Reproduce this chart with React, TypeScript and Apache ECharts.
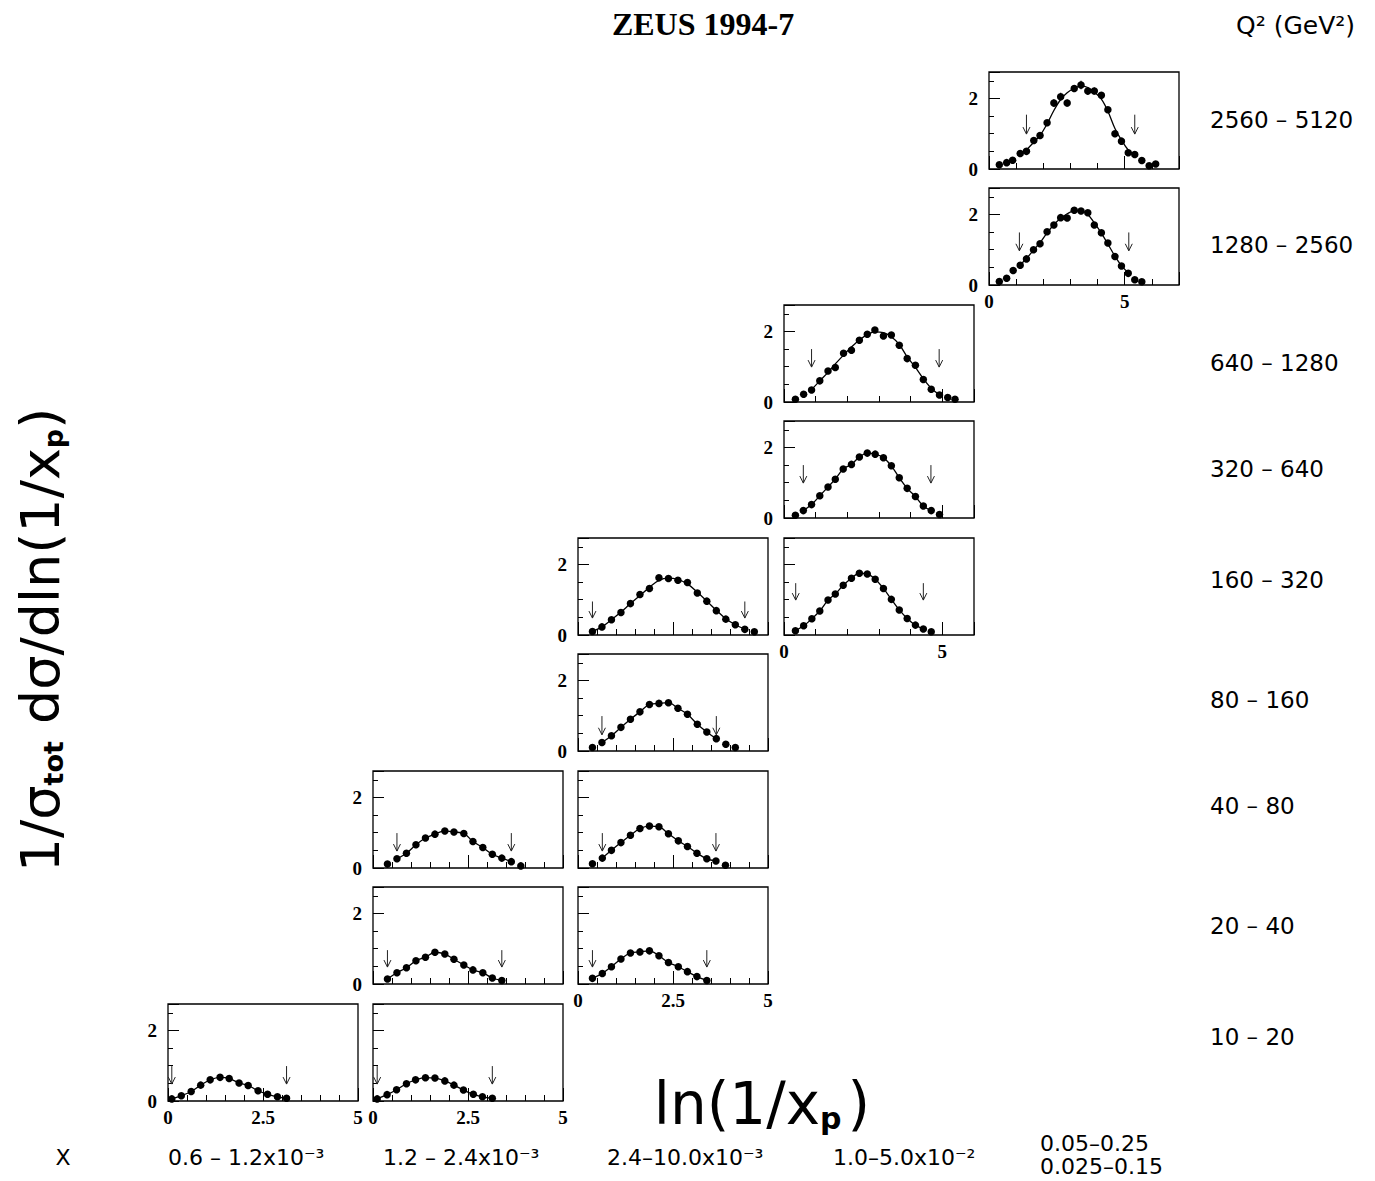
import React, { useEffect, useRef } from 'react';
import * as echarts from 'echarts';

// ---------- texts ----------
const titleText = 'ZEUS 1994-7';
const q2Header = 'Q² (GeV²)';
const q2Labels = ['2560 – 5120', '1280 – 2560', '640 – 1280', '320 – 640', '160 – 320', '80 – 160', '40 – 80', '20 – 40', '10 – 20'];
const xBinLabels = ['0.6 – 1.2x10⁻³', '1.2 – 2.4x10⁻³', '2.4–10.0x10⁻³', '1.0–5.0x10⁻²'];
const xBinLast = ['0.05–0.25', '0.025–0.15'];

// ---------- axis scales per column ----------
const colXMax = [5, 5, 5, 6, 7];
const colXMajor = [2.5, 2.5, 2.5, 5, 5];
const colXMinor = [0.5, 0.5, 0.5, 1, 1];
const yMax = 2.75;
const yMajor = 2;
const yMinor = 0.5;
const yLabelValues = [0, 2];

// ---------- data (ln(1/xp), 1/sigma dsigma/dln(1/xp)) ----------
// Q2 2560-5120
const x_2560 = [0.38, 0.65, 0.87, 1.15, 1.38, 1.65, 1.88, 2.14, 2.39, 2.64, 2.88, 3.14, 3.39, 3.64, 3.88, 4.14, 4.38, 4.64, 4.88, 5.13, 5.37, 5.63, 5.9, 6.14];
const y_2560 = [0.12, 0.18, 0.25, 0.44, 0.5, 0.81, 0.95, 1.31, 1.87, 2.05, 1.87, 2.28, 2.38, 2.21, 2.21, 2.09, 1.68, 1.0, 0.79, 0.46, 0.41, 0.24, 0.09, 0.14];
const e_2560 = [0.02, 0.02, 0.03, 0.03, 0.04, 0.04, 0.05, 0.07, 0.11, 0.11, 0.1, 0.1, 0.12, 0.11, 0.1, 0.09, 0.07, 0.05, 0.05, 0.04, 0.04, 0.04, 0.05, 0.07];
const fit_2560 = [[1.38, 0.54], [1.65, 0.76], [1.88, 0.95], [2.14, 1.28], [2.39, 1.66], [2.64, 1.97], [2.88, 2.16], [3.14, 2.29], [3.39, 2.35], [3.64, 2.31], [3.88, 2.18], [4.14, 1.98], [4.38, 1.64], [4.64, 1.15], [4.88, 0.82], [5.13, 0.54], [5.37, 0.4]];
const arr_2560 = [[1.38, 1.54, 0.99], [5.37, 1.54, 0.99]];

// Q2 1280-2560
const x_1280 = [0.38, 0.65, 0.89, 1.15, 1.38, 1.64, 1.88, 2.14, 2.39, 2.64, 2.88, 3.14, 3.39, 3.64, 3.88, 4.14, 4.38, 4.64, 4.88, 5.13, 5.37, 5.63];
const y_1280 = [0.1, 0.19, 0.41, 0.56, 0.74, 1.0, 1.17, 1.51, 1.7, 1.91, 1.9, 2.12, 2.1, 2.05, 1.7, 1.48, 1.19, 0.81, 0.54, 0.33, 0.15, 0.09];
const fit_1280 = [[1.12, 0.55], [1.38, 0.75], [1.64, 0.99], [1.88, 1.2], [2.14, 1.48], [2.39, 1.71], [2.64, 1.89], [2.88, 2.02], [3.14, 2.1], [3.39, 2.1], [3.64, 2.0], [3.88, 1.76], [4.14, 1.47], [4.38, 1.16], [4.64, 0.82], [4.88, 0.55], [5.15, 0.33]];
const arr_1280 = [[1.12, 1.49, 0.97], [5.15, 1.49, 0.97]];

// Q2 640-1280
const x_640 = [0.36, 0.62, 0.87, 1.13, 1.39, 1.62, 1.88, 2.13, 2.38, 2.63, 2.87, 3.14, 3.39, 3.64, 3.89, 4.15, 4.4, 4.65, 4.91, 5.17, 5.4];
const y_640 = [0.08, 0.22, 0.34, 0.6, 0.88, 0.98, 1.38, 1.47, 1.75, 1.92, 2.04, 1.87, 1.9, 1.61, 1.23, 1.04, 0.64, 0.36, 0.2, 0.13, 0.08];
const fit_640 = [[0.87, 0.35], [1.13, 0.6], [1.39, 0.84], [1.62, 1.08], [1.88, 1.33], [2.13, 1.56], [2.38, 1.76], [2.63, 1.91], [2.87, 1.99], [3.14, 1.97], [3.39, 1.85], [3.64, 1.63], [3.89, 1.28], [4.15, 0.98], [4.4, 0.66], [4.65, 0.39], [4.9, 0.21]];
const arr_640 = [[0.87, 1.5, 0.99], [4.9, 1.5, 0.99]];

// Q2 320-640
const x_320 = [0.36, 0.61, 0.87, 1.13, 1.39, 1.62, 1.87, 2.13, 2.38, 2.63, 2.88, 3.14, 3.39, 3.64, 3.89, 4.15, 4.4, 4.65, 4.91];
const y_320 = [0.08, 0.21, 0.38, 0.63, 0.88, 1.1, 1.39, 1.52, 1.73, 1.84, 1.81, 1.71, 1.48, 1.14, 0.84, 0.61, 0.34, 0.21, 0.1];
const arr_320 = [[0.61, 1.5, 0.99], [4.64, 1.5, 0.99]];

// Q2 160-320, x 1.0-5.0e-2
const x_160b = [0.36, 0.62, 0.88, 1.13, 1.39, 1.62, 1.87, 2.13, 2.38, 2.63, 2.88, 3.14, 3.39, 3.64, 3.89, 4.15, 4.4, 4.65];
const y_160b = [0.12, 0.26, 0.46, 0.68, 0.99, 1.16, 1.41, 1.61, 1.75, 1.73, 1.58, 1.32, 1.01, 0.71, 0.47, 0.28, 0.17, 0.09];
const arr_160b = [[0.37, 1.47, 0.99], [4.4, 1.47, 0.99]];

// Q2 160-320, x 2.4-10.0e-3
const x_160a = [0.38, 0.63, 0.88, 1.13, 1.38, 1.63, 1.88, 2.13, 2.38, 2.63, 2.88, 3.14, 3.39, 3.64, 3.89, 4.14, 4.39, 4.64];
const y_160a = [0.1, 0.23, 0.43, 0.64, 0.89, 1.15, 1.32, 1.62, 1.6, 1.55, 1.49, 1.19, 0.96, 0.69, 0.45, 0.29, 0.16, 0.09];
const fit_160a = [[0.38, 0.1], [0.63, 0.23], [0.88, 0.43], [1.13, 0.65], [1.38, 0.89], [1.63, 1.12], [1.88, 1.35], [2.13, 1.55], [2.38, 1.61], [2.63, 1.57], [2.88, 1.45], [3.14, 1.21], [3.39, 0.96], [3.64, 0.7], [3.89, 0.46], [4.14, 0.29], [4.39, 0.17]];
const arr_160a = [[0.38, 0.95, 0.48], [4.39, 0.95, 0.48]];

// Q2 80-160
const x_80 = [0.38, 0.63, 0.88, 1.13, 1.38, 1.63, 1.88, 2.13, 2.38, 2.63, 2.88, 3.14, 3.39, 3.64, 3.89, 4.14];
const y_80 = [0.1, 0.24, 0.43, 0.67, 0.9, 1.11, 1.32, 1.35, 1.37, 1.21, 1.04, 0.76, 0.54, 0.35, 0.19, 0.1];
const arr_80 = [[0.63, 0.99, 0.46], [3.64, 0.99, 0.46]];

// Q2 40-80, x 1.2-2.4e-3
const x_40a = [0.38, 0.63, 0.88, 1.13, 1.38, 1.63, 1.89, 2.13, 2.39, 2.63, 2.89, 3.14, 3.39, 3.64, 3.89];
const y_40a = [0.11, 0.26, 0.42, 0.66, 0.85, 0.96, 1.05, 1.02, 0.98, 0.75, 0.58, 0.39, 0.28, 0.18, 0.06];
const arr_40a = [[0.63, 0.99, 0.48], [3.64, 0.99, 0.48]];

// Q2 40-80, x 2.4-10.0e-3
const x_40b = [0.38, 0.64, 0.88, 1.13, 1.38, 1.63, 1.88, 2.13, 2.38, 2.64, 2.88, 3.13, 3.39, 3.63, 3.88];
const y_40b = [0.12, 0.28, 0.5, 0.72, 0.93, 1.12, 1.19, 1.17, 0.97, 0.77, 0.61, 0.42, 0.26, 0.2, 0.08];
const arr_40b = [[0.64, 0.99, 0.48], [3.63, 0.99, 0.48]];

// Q2 20-40, x 1.2-2.4e-3
const x_20a = [0.38, 0.63, 0.88, 1.13, 1.38, 1.63, 1.89, 2.13, 2.39, 2.63, 2.89, 3.14, 3.39];
const y_20a = [0.14, 0.32, 0.46, 0.66, 0.76, 0.9, 0.85, 0.7, 0.54, 0.4, 0.32, 0.17, 0.1];
const arr_20a = [[0.38, 0.96, 0.48], [3.39, 0.96, 0.48]];

// Q2 20-40, x 2.4-10.0e-3
const x_20b = [0.38, 0.64, 0.88, 1.13, 1.38, 1.63, 1.88, 2.13, 2.38, 2.64, 2.88, 3.13, 3.39];
const y_20b = [0.16, 0.3, 0.49, 0.71, 0.88, 0.91, 0.94, 0.8, 0.61, 0.49, 0.35, 0.21, 0.1];
const arr_20b = [[0.38, 0.96, 0.48], [3.39, 0.96, 0.48]];

// Q2 10-20, x 0.6-1.2e-3
const x_10a = [0.1, 0.35, 0.61, 0.86, 1.11, 1.37, 1.61, 1.87, 2.11, 2.37, 2.62, 2.88, 3.12];
const y_10a = [0.06, 0.15, 0.27, 0.45, 0.6, 0.67, 0.64, 0.51, 0.44, 0.29, 0.19, 0.12, 0.08];
const arr_10a = [[0.1, 0.99, 0.48], [3.12, 0.99, 0.48]];

// Q2 10-20, x 1.2-2.4e-3
const x_10b = [0.11, 0.37, 0.62, 0.88, 1.12, 1.38, 1.63, 1.89, 2.13, 2.38, 2.64, 2.88, 3.14];
const y_10b = [0.06, 0.18, 0.32, 0.49, 0.6, 0.66, 0.65, 0.57, 0.45, 0.31, 0.19, 0.12, 0.08];
const arr_10b = [[0.11, 0.99, 0.48], [3.14, 0.99, 0.48]];

// ---------- layout (pixels) ----------
const colLeft = [168, 373, 578, 784, 989];
const panelW = 190;
const rowTop = [72, 188, 305, 421, 538, 654, 771, 887, 1004];
const panelH = 97;
const q2LabelY = [120, 245, 363, 469, 580, 700, 806, 926, 1037];

type Panel = {
  row: number; col: number; xs: number[]; ys: number[]; err?: number[];
  fit?: number[][]; arrows: number[][]; yLab: boolean; xLab: boolean;
};

const panels: Panel[] = [
  { row: 0, col: 4, xs: x_2560, ys: y_2560, err: e_2560, fit: fit_2560, arrows: arr_2560, yLab: true, xLab: false },
  { row: 1, col: 4, xs: x_1280, ys: y_1280, fit: fit_1280, arrows: arr_1280, yLab: true, xLab: true },
  { row: 2, col: 3, xs: x_640, ys: y_640, fit: fit_640, arrows: arr_640, yLab: true, xLab: false },
  { row: 3, col: 3, xs: x_320, ys: y_320, arrows: arr_320, yLab: true, xLab: false },
  { row: 4, col: 2, xs: x_160a, ys: y_160a, fit: fit_160a, arrows: arr_160a, yLab: true, xLab: false },
  { row: 4, col: 3, xs: x_160b, ys: y_160b, arrows: arr_160b, yLab: false, xLab: true },
  { row: 5, col: 2, xs: x_80, ys: y_80, arrows: arr_80, yLab: true, xLab: false },
  { row: 6, col: 1, xs: x_40a, ys: y_40a, arrows: arr_40a, yLab: true, xLab: false },
  { row: 6, col: 2, xs: x_40b, ys: y_40b, arrows: arr_40b, yLab: false, xLab: false },
  { row: 7, col: 1, xs: x_20a, ys: y_20a, arrows: arr_20a, yLab: true, xLab: false },
  { row: 7, col: 2, xs: x_20b, ys: y_20b, arrows: arr_20b, yLab: false, xLab: true },
  { row: 8, col: 0, xs: x_10a, ys: y_10a, arrows: arr_10a, yLab: true, xLab: true },
  { row: 8, col: 1, xs: x_10b, ys: y_10b, arrows: arr_10b, yLab: false, xLab: true },
];

const labelFont = { fontFamily: '"Liberation Serif", "Times New Roman", serif', fontWeight: 'bold' as const, fontSize: 19, color: '#000' };
const sans = '"DejaVu Sans", Verdana, sans-serif';

function isMult(v: number, step: number) {
  return Math.abs(v / step - Math.round(v / step)) < 1e-6;
}

function buildOption() {
  const grid: any[] = [];
  const xAxis: any[] = [];
  const yAxis: any[] = [];
  const series: any[] = [];

  panels.forEach((p, i) => {
    grid.push({
      left: colLeft[p.col], top: rowTop[p.row], width: panelW, height: panelH,
      show: true, borderColor: '#000', borderWidth: 1.3, backgroundColor: 'transparent',
      containLabel: false, outerBoundsMode: 'none',
    });
    const xmax = colXMax[p.col];
    const xmaj = colXMajor[p.col];
    const xmin = colXMinor[p.col];
    const common = { type: 'value', gridIndex: i, axisLine: { show: false }, splitLine: { show: false } };
    xAxis.push({
      ...common, min: 0, max: xmax, interval: xmaj, position: 'bottom',
      axisTick: { show: true, inside: true, length: 13, lineStyle: { color: '#000', width: 1 } },
      axisLabel: { show: p.xLab, margin: 7, ...labelFont, formatter: (v: number) => (isMult(v, xmaj) ? String(v) : '') },
    });
    xAxis.push({
      ...common, min: 0, max: xmax, interval: xmin, position: 'bottom',
      axisTick: { show: true, inside: true, length: 6, lineStyle: { color: '#000', width: 1 } },
      axisLabel: { show: false },
    });
    yAxis.push({
      ...common, min: 0, max: yMax, interval: yMajor, position: 'left',
      axisTick: { show: true, inside: true, length: 11, lineStyle: { color: '#000', width: 1 } },
      axisLabel: { show: p.yLab, margin: 11, ...labelFont, formatter: (v: number) => (yLabelValues.indexOf(v) >= 0 ? String(v) : '') },
    });
    yAxis.push({
      ...common, min: 0, max: yMax, interval: yMinor, position: 'left',
      axisTick: { show: true, inside: true, length: 5, lineStyle: { color: '#000', width: 1 } },
      axisLabel: { show: false },
    });

    const xi = 2 * i;
    const pts = p.xs.map((x, k) => [x, p.ys[k]]);
    const a0 = p.arrows[0][0];
    const a1 = p.arrows[1][0];
    const fit = p.fit ?? pts.filter((d) => d[0] >= a0 - 0.03 && d[0] <= a1 + 0.03);

    series.push({
      type: 'line', xAxisIndex: xi, yAxisIndex: xi, data: fit, smooth: 0.35,
      symbol: 'none', showSymbol: false, lineStyle: { color: '#000', width: 1.3, opacity: 1 }, z: 2, silent: true,
    });
    if (p.err) {
      const errs = p.xs.map((x, k) => [x, p.ys[k] - p.err![k], p.ys[k] + p.err![k]]);
      series.push({
        type: 'custom', xAxisIndex: xi, yAxisIndex: xi, data: errs, z: 3, silent: true,
        renderItem: (_params: any, api: any) => {
          const lo = api.coord([api.value(0), api.value(1)]);
          const hi = api.coord([api.value(0), api.value(2)]);
          return { type: 'line', shape: { x1: lo[0], y1: lo[1], x2: hi[0], y2: hi[1] }, style: { stroke: '#000', lineWidth: 1.2 } };
        },
      });
    }
    series.push({
      type: 'scatter', xAxisIndex: xi, yAxisIndex: xi, data: pts, symbol: 'circle', symbolSize: 7.5,
      itemStyle: { color: '#000', opacity: 1 }, z: 4, silent: true,
    });
    series.push({
      type: 'custom', xAxisIndex: xi, yAxisIndex: xi, data: p.arrows, z: 5, silent: true,
      renderItem: (_params: any, api: any) => {
        const t = api.coord([api.value(0), api.value(1)]);
        const b = api.coord([api.value(0), api.value(2)]);
        return {
          type: 'group',
          children: [
            { type: 'line', shape: { x1: t[0], y1: t[1], x2: b[0], y2: b[1] }, style: { stroke: '#222', lineWidth: 1 } },
            { type: 'polyline', shape: { points: [[b[0] - 3.5, b[1] - 7], [b[0], b[1]], [b[0] + 3.5, b[1] - 7]] }, style: { stroke: '#222', fill: 'none', lineWidth: 1 } },
          ],
        };
      },
    });
  });

  const txt = (text: string, x: number, y: number, font: string, align = 'left') => ({
    type: 'text', x, y, silent: true,
    style: { text, font, fill: '#000', align, textAlign: align, verticalAlign: 'middle', textVerticalAlign: 'middle' },
  });

  const graphic: any[] = [];
  graphic.push(txt(titleText, 703, 24, 'bold 32px "Liberation Serif", "Times New Roman", serif', 'center'));
  graphic.push(txt(q2Header, 1236, 25, `25px ${sans}`, 'left'));
  q2Labels.forEach((l, k) => graphic.push(txt(l, 1210, q2LabelY[k], `23px ${sans}`, 'left')));
  graphic.push(txt('X', 63, 1157, `22px ${sans}`, 'center'));
  const binLeft = [168, 383, 607, 833];
  xBinLabels.forEach((l, k) => graphic.push(txt(l, binLeft[k], 1157, `22px ${sans}`, 'left')));
  graphic.push(txt(xBinLast[0], 1040, 1143, `22px ${sans}`, 'left'));
  graphic.push(txt(xBinLast[1], 1040, 1166, `22px ${sans}`, 'left'));
  // x-axis title
  graphic.push({
    type: 'text', x: 762, y: 1104, silent: true,
    style: {
      text: 'ln(1/x{sub|p})', font: `58px ${sans}`, fill: '#000',
      align: 'center', textAlign: 'center', verticalAlign: 'middle', textVerticalAlign: 'middle',
      rich: { sub: { fontSize: 30, fontFamily: 'DejaVu Sans', fontWeight: 'bold', verticalAlign: 'bottom', padding: [0, 6, 0, 0] } },
    },
  });
  // y-axis title
  graphic.push({
    type: 'text', x: 40, y: 640, rotation: Math.PI / 2, silent: true,
    style: {
      text: '1/σ{sub|tot} dσ/dln(1/x{sub|p})', font: `54px ${sans}`, fill: '#000',
      align: 'center', textAlign: 'center', verticalAlign: 'middle', textVerticalAlign: 'middle',
      rich: { sub: { fontSize: 27, fontFamily: 'DejaVu Sans', fontWeight: 'bold', verticalAlign: 'bottom' } },
    },
  });

  return { animation: false, backgroundColor: '#fff', grid, xAxis, yAxis, series, graphic };
}

export default function App() {
  const ref = useRef<HTMLDivElement>(null);
  useEffect(() => {
    document.body.style.margin = '0';
    document.body.style.overflow = 'hidden';
    if (!ref.current) return;
    const chart = echarts.init(ref.current, undefined, { renderer: 'svg' });
    chart.setOption(buildOption() as any);
    return () => chart.dispose();
  }, []);
  return <div ref={ref} style={{ position: 'absolute', left: 0, top: 0, width: 1375, height: 1181 }} />;
}
